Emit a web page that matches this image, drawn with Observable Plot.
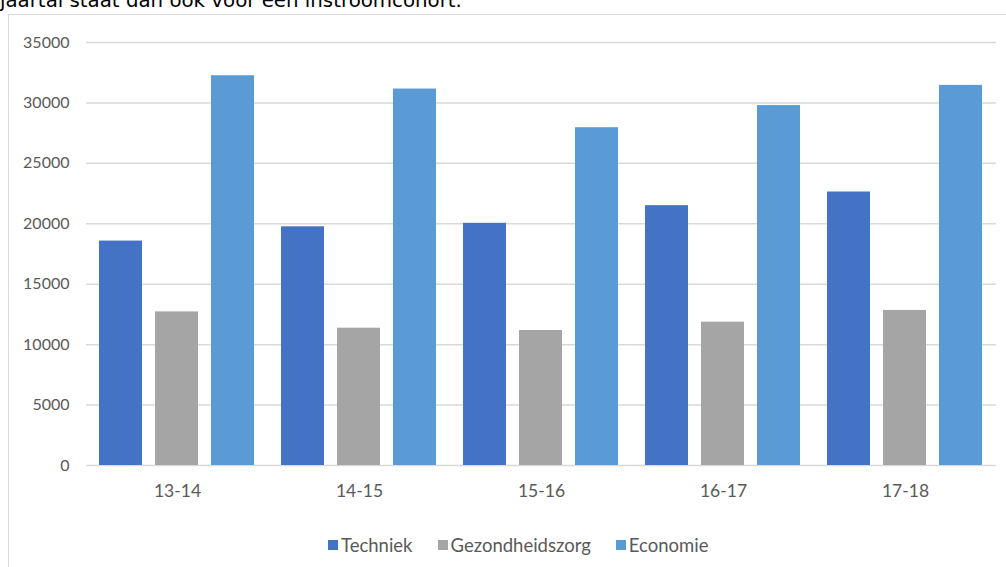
<!DOCTYPE html>
<html><head><meta charset="utf-8">
<script src="https://cdn.jsdelivr.net/npm/d3@7"></script>
<script src="https://cdn.jsdelivr.net/npm/@observablehq/plot@0.6"></script>
<style>
body{margin:0;background:#fff;width:1006px;height:567px;overflow:hidden;position:relative;font-family:Lato,sans-serif}
#intro{position:absolute;left:0;top:-9px;font-family:"DejaVu Sans",sans-serif;font-size:19.8px;line-height:20px;color:#000;white-space:nowrap}
#box{position:absolute;left:8px;top:14px;width:1100px;height:700px;border:1.5px solid #d9d9d9;box-sizing:border-box}
#chart{position:absolute;left:0;top:0}
#legend{position:absolute;top:534px;left:328px;display:flex;align-items:center;font-family:Lato,sans-serif;font-size:18.5px;color:#595959;white-space:nowrap}
.item{display:flex;align-items:center;margin-right:25px}
.sw{width:10px;height:10px;margin-right:3px;display:inline-block}
</style>
</head><body>
<div id="intro">jaartal staat dan ook voor een instroomcohort.</div>
<div id="box"></div>
<div id="chart"></div>
<div id="legend"></div>
<script>
const years = ["13-14", "14-15", "15-16", "16-17", "17-18"];
const series = ["Techniek", "Gezondheidszorg", "Economie"];
const techniek = [18570, 19750, 20040, 21500, 22630];
const gezondheidszorg = [12710, 11360, 11170, 11860, 12830];
const economie = [32250, 31150, 27950, 29780, 31450];
const yTicks = [0, 5000, 10000, 15000, 20000, 25000, 30000, 35000];
const colors = ["#4472C4", "#A5A5A5", "#5B9BD5"];

const values = [techniek, gezondheidszorg, economie];
const data = [];
years.forEach((yr, i) => series.forEach((s, j) => data.push({year: yr, series: s, value: values[j][i]})));

const chart = Plot.plot({
  width: 1006, height: 510,
  marginLeft: 85, marginRight: 9, marginTop: 42, marginBottom: 45,
  style: {fontFamily: "Lato, sans-serif", color: "#595959", background: "transparent"},
  fx: {domain: years, padding: 0, label: null},
  x: {domain: series, padding: 0.23, axis: null},
  y: {domain: [0, 35000], label: null},
  color: {domain: series, range: colors},
  marks: [
    Plot.ruleY(yTicks, {stroke: "#d9d9d9", strokeWidth: 1.5}),
    Plot.barY(data, {fx: "year", x: "series", y: "value", fill: "series"}),
    Plot.axisY({ticks: yTicks, tickSize: 0, tickPadding: 17, fontSize: 16, tickFormat: d => String(d), label: null}),
    Plot.axisFx({anchor: "bottom", tickSize: 0, tickPadding: 19, fontSize: 17.5, label: null})
  ]
});
document.getElementById("chart").appendChild(chart);

const legend = document.getElementById("legend");
series.forEach((s, j) => {
  const it = document.createElement("div");
  it.className = "item";
  it.innerHTML = `<span class="sw" style="background:${colors[j]}"></span><span>${s}</span>`;
  legend.appendChild(it);
});
</script>
</body></html>
